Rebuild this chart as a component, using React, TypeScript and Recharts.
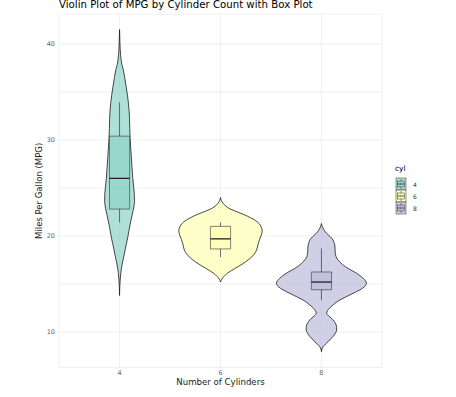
import React from 'react';
import {
  ComposedChart,
  Area,
  XAxis,
  YAxis,
  CartesianGrid,
  ReferenceArea,
  ReferenceLine,
} from 'recharts';

const FONT = '"DejaVu Sans", sans-serif';

// categories
const cylinders = ['4', '6', '8'];
const fills = ['#8DD3C7', '#FFFFB3', '#BEBADA'];

// box plot statistics (mpg)
const q1 = [22.8, 18.65, 14.4];
const medians = [26.0, 19.7, 15.2];
const q3 = [30.4, 21.0, 16.25];
const whiskerLow = [21.4, 17.8, 13.3];
const whiskerHigh = [33.9, 21.4, 18.7];

const yTicks = [10, 15, 20, 25, 30, 35, 40];

// violin outlines: [mpg, half-width in category units]
const violin4: [number, number][] = [
  [13.8, 0], [14.6, 0.002], [15.4, 0.006], [16.1, 0.012], [16.6, 0.018], [17.2, 0.028],
  [17.8, 0.041], [18.5, 0.054], [19.2, 0.068], [19.9, 0.082], [20.6, 0.094], [21.35, 0.107],
  [22.2, 0.125], [22.9, 0.139], [23.6, 0.148], [24.4, 0.146], [25.2, 0.139], [26.0, 0.131],
  [27.2, 0.123], [28.6, 0.114], [29.4, 0.109], [30.3, 0.104], [31.2, 0.101], [32.1, 0.099],
  [33.0, 0.095], [33.9, 0.087], [34.6, 0.079], [35.5, 0.066], [36.5, 0.051], [37.3, 0.037],
  [37.9, 0.022], [38.9, 0.01], [40.0, 0.004], [41.5, 0],
];
const violin6: [number, number][] = [
  [15.2, 0], [15.5, 0.012], [15.8, 0.035], [16.1, 0.066], [16.4, 0.109], [16.8, 0.173],
  [17.3, 0.248], [17.8, 0.307], [18.3, 0.347], [18.75, 0.364], [19.2, 0.374], [19.6, 0.386],
  [20.0, 0.401], [20.5, 0.413], [21.0, 0.401], [21.3, 0.381], [21.6, 0.347], [21.9, 0.297],
  [22.2, 0.238], [22.5, 0.168], [22.8, 0.099], [23.1, 0.054], [23.4, 0.025], [23.7, 0.008],
  [24.0, 0],
];
const violin8: [number, number][] = [
  [7.95, 0], [8.2, 0.005], [8.47, 0.017], [8.73, 0.04], [8.99, 0.066], [9.35, 0.099],
  [9.69, 0.127], [9.95, 0.142], [10.2, 0.151], [10.45, 0.151], [10.73, 0.146], [11.1, 0.127],
  [11.43, 0.099], [11.7, 0.069], [11.95, 0.052], [12.2, 0.059], [12.47, 0.079], [12.8, 0.114],
  [13.16, 0.156], [13.5, 0.213], [13.85, 0.28], [14.2, 0.347], [14.55, 0.406], [15.07, 0.446],
  [15.6, 0.413], [15.95, 0.371], [16.28, 0.322], [16.6, 0.267], [16.98, 0.215], [17.35, 0.178],
  [17.7, 0.151], [18.0, 0.141], [18.37, 0.136], [18.7, 0.135], [19.06, 0.132], [19.4, 0.122],
  [19.75, 0.104], [20.1, 0.069], [20.45, 0.037], [20.9, 0.012], [21.3, 0],
];
const violins = [violin4, violin6, violin8];

const violinData = violins.map((v, i) =>
  v.map(([mpg, hw]) => ({ mpg, band: [i + 1 - hw, i + 1 + hw] }))
);

const BOX_HALF = 0.1;
const STROKE = '#333333';
const VIOLIN_STROKE = '#1a1a1a';

const YTitle = (props: any) => {
  const vb = props.viewBox || {};
  const cx = (vb.x ?? 0) + 39;
  const cy = (vb.y ?? 0) + (vb.height ?? 0) / 2;
  return (
    <text
      x={cx}
      y={cy}
      transform={`rotate(-90, ${cx}, ${cy})`}
      textAnchor="middle"
      dominantBaseline="central"
      fontFamily={FONT}
      fontSize={8.5}
      fill="#1a1a1a"
    >
      Miles Per Gallon (MPG)
    </text>
  );
};

const XTitle = (props: any) => {
  const vb = props.viewBox || {};
  const cx = (vb.x ?? 0) + (vb.width ?? 0) / 2;
  const cy = (vb.y ?? 0) + 17.5;
  return (
    <text x={cx} y={cy} textAnchor="middle" fontFamily={FONT} fontSize={8.6} fill="#1a1a1a">
      Number of Cylinders
    </text>
  );
};

export default function App() {
  return (
    <div style={{ position: 'absolute', left: 0, top: 0, width: 456, height: 397, background: '#fff' }}>
      <ComposedChart
        width={456}
        height={397}
        layout="vertical"
        margin={{ top: 14.2, right: 74, bottom: 0, left: 0 }}
      >
        <CartesianGrid stroke="#ebebeb" strokeWidth={0.8} />
        <XAxis
          type="number"
          domain={[0.4, 3.6]}
          allowDataOverflow
          ticks={[1, 2, 3]}
          tickFormatter={(v: number) => cylinders[v - 1] ?? ''}
          height={29.5}
          axisLine={false}
          tickLine={false}
          tickSize={0}
          tickMargin={3}
          tick={{ fontSize: 6.5, fill: '#666', fontFamily: FONT }}
          label={<XTitle />}
        />
        <YAxis
          type="number"
          dataKey="mpg"
          domain={[6.3, 43.1]}
          allowDataOverflow
          reversed
          ticks={yTicks}
          tickFormatter={(v: number) => (v % 10 === 0 ? String(v) : '')}
          width={59}
          axisLine={false}
          tickLine={false}
          tickSize={0}
          tickMargin={4}
          tick={{ fontSize: 6.5, fill: '#666', fontFamily: FONT }}
          label={<YTitle />}
        />
        {violinData.map((d, i) => (
          <Area
            key={`v${i}`}
            data={d}
            dataKey="band"
            type="monotone"
            fill={fills[i]}
            fillOpacity={0.7}
            stroke={VIOLIN_STROKE}
            strokeWidth={0.8}
            dot={false}
            activeDot={false}
            isAnimationActive={false}
          />
        ))}
        {cylinders.map((c, i) => (
          <ReferenceLine
            key={`wu${c}`}
            segment={[{ x: i + 1, y: q3[i] }, { x: i + 1, y: whiskerHigh[i] }]}
            stroke={STROKE}
            strokeWidth={0.7}
          />
        ))}
        {cylinders.map((c, i) => (
          <ReferenceLine
            key={`wl${c}`}
            segment={[{ x: i + 1, y: whiskerLow[i] }, { x: i + 1, y: q1[i] }]}
            stroke={STROKE}
            strokeWidth={0.7}
          />
        ))}
        {cylinders.map((c, i) => (
          <ReferenceArea
            key={`b${c}`}
            x1={i + 1 - BOX_HALF}
            x2={i + 1 + BOX_HALF}
            y1={q1[i]}
            y2={q3[i]}
            fill={fills[i]}
            fillOpacity={0.7}
            stroke={STROKE}
            strokeWidth={0.6}
          />
        ))}
        {cylinders.map((c, i) => (
          <ReferenceLine
            key={`m${c}`}
            segment={[{ x: i + 1 - BOX_HALF, y: medians[i] }, { x: i + 1 + BOX_HALF, y: medians[i] }]}
            stroke="#222"
            strokeWidth={1.3}
          />
        ))}
      </ComposedChart>
      <svg
        width={456}
        height={397}
        style={{ position: 'absolute', left: 0, top: 0, pointerEvents: 'none' }}
      >
        <text x={59} y={8.4} fontFamily={FONT} fontSize={10.2} fill="#000">
          Violin Plot of MPG by Cylinder Count with Box Plot
        </text>
        <text x={395} y={171} fontFamily={FONT} fontSize={7.5} fill="#000">
          cyl
        </text>
        {cylinders.map((c, i) => {
          const x = 396;
          const w = 10;
          const h = 12;
          const y = 178 + i * h;
          return (
            <g key={`lg${c}`}>
              <rect x={x} y={y} width={w} height={h} fill={fills[i]} fillOpacity={0.7} stroke={STROKE} strokeWidth={0.5} />
              <line x1={x + w / 2} x2={x + w / 2} y1={y + 1} y2={y + h - 1} stroke={STROKE} strokeWidth={0.5} />
              <rect x={x + 1.5} y={y + h * 0.25} width={w - 3} height={h * 0.5} fill={fills[i]} fillOpacity={0.7} stroke={STROKE} strokeWidth={0.5} />
              <line x1={x + 1.5} x2={x + w - 1.5} y1={y + h / 2} y2={y + h / 2} stroke={STROKE} strokeWidth={0.8} />
              <text x={413} y={y + h / 2} dominantBaseline="central" fontFamily={FONT} fontSize={6} fill="#333">
                {c}
              </text>
            </g>
          );
        })}
      </svg>
    </div>
  );
}
